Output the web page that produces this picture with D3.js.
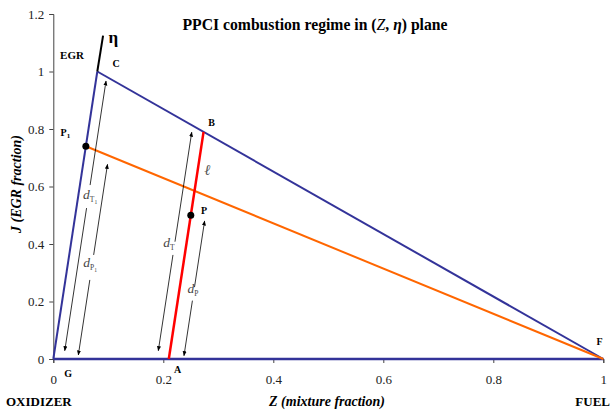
<!DOCTYPE html>
<html>
<head>
<meta charset="utf-8">
<script src="https://cdn.jsdelivr.net/npm/d3@7"></script>
<style>
  body { margin: 0; background: #fff; }
  text { font-family: "Liberation Serif", "Times New Roman", "DejaVu Serif", serif; }
</style>
</head>
<body>
<svg id="chart" width="610" height="410"></svg>
<script>
// ---- data (Z, J coordinates) ----
let xTicks = [0, 0.2, 0.4, 0.6, 0.8, 1];
let yTicks = [0, 0.2, 0.4, 0.6, 0.8, 1, 1.2];

let egrLine = [[0, 0], [0.08, 1]];          // G -> C
let etaLine = [[0.08, 1], [0.0905, 1.125]];  // C -> eta
let topLine = [[0.08, 1], [1, 0]];          // C -> F
let baseLine = [[0, 0], [1, 0]];            // G -> F
let redLine = [[0.21, 0], [0.2732, 0.79]];   // A -> B
let orangeLine = [[0.0592, 0.74], [1, 0]];   // P1 -> F
let points = [[0.25, 0.5], [0.0592, 0.74]]; // P, P1

// double arrows parallel to eta: z at J=0, J from, J to, gap in J
let arrows = [
  {z0: 0.0185, j0: 0.029, j1: 0.967, g0: 0.525, g1: 0.605},
  {z0: 0.0444, j0: 0.014, j1: 0.677, g0: 0.275, g1: 0.362},
  {z0: 0.1886, j0: 0.029, j1: 0.789, g0: 0.362, g1: 0.408},
  {z0: 0.2367, j0: 0.0115, j1: 0.48, g0: 0.203, g1: 0.25}
];
let slope = 0.08;

// d labels: [z, J, subscript, sub-subscript]
let dLabels = [
  [0.067, 0.556, "T", "1"],
  [0.067, 0.32, "P", "1"],
  [0.21, 0.39, "T", ""],
  [0.254, 0.23, "P", ""]
];

let pointLabels = [
  {t: "C", z: 0.114, J: 1.015, size: 10},
  {t: "B", z: 0.288, J: 0.81, size: 10},
  {t: "F", z: 0.993, J: 0.05, size: 10},
  {t: "G", z: 0.027, J: -0.063, size: 10},
  {t: "A", z: 0.226, J: -0.049, size: 10},
  {t: "P", z: 0.274, J: 0.504, size: 10},
  {t: "EGR", z: 0.034, J: 1.045, size: 11}
];

// ---- layout ----
let serif = "Liberation Serif, Times New Roman, serif";
let svg = d3.select("#chart");
let x = d3.scaleLinear().domain([0, 1]).range([53.3, 603.3]);
let y = d3.scaleLinear().domain([0, 1.2]).range([359, 14]);
let line = d3.line().x(d => x(d[0])).y(d => y(d[1]));

svg.append("defs").append("marker")
  .attr("id", "head")
  .attr("viewBox", "0 0 10 10")
  .attr("refX", 9).attr("refY", 5)
  .attr("markerWidth", 5).attr("markerHeight", 5)
  .attr("markerUnits", "userSpaceOnUse")
  .attr("orient", "auto-start-reverse")
  .append("path")
  .attr("d", "M0,1 L10,5 L0,9 Z")
  .attr("fill", "#000");

// axes
let xAxis = svg.append("g")
  .attr("transform", "translate(0," + y(0) + ")")
  .call(d3.axisBottom(x).tickValues(xTicks).tickSize(4).tickPadding(12)
    .tickFormat(d => d3.format("")(d)));
let yAxis = svg.append("g")
  .attr("transform", "translate(" + x(0) + ",0)")
  .call(d3.axisLeft(y).tickValues(yTicks).tickSize(4).tickPadding(5)
    .tickFormat(d => d3.format("")(d)));
[xAxis, yAxis].forEach(a => {
  a.attr("font-family", serif).attr("font-size", 13);
  a.selectAll("path.domain").attr("stroke", "#444");
  a.selectAll("line").attr("stroke", "#444");
  a.selectAll("text").attr("fill", "#222");
});

// title
let title = svg.append("text")
  .attr("x", 315).attr("y", 30)
  .attr("text-anchor", "middle")
  .attr("font-size", 15.7).attr("font-weight", "bold");
title.append("tspan").text("PPCI combustion regime in (");
title.append("tspan").attr("font-style", "italic").attr("font-weight", "normal").text("Z");
title.append("tspan").text(", ");
title.append("tspan").attr("font-style", "italic").text("η");
title.append("tspan").text(") plane");

// axis titles
svg.append("text")
  .attr("x", 327).attr("y", 406)
  .attr("text-anchor", "middle")
  .attr("font-size", 14).attr("font-weight", "bold").attr("font-style", "italic")
  .text("Z (mixture fraction)");

svg.append("text")
  .attr("transform", "translate(21,184) rotate(-90)")
  .attr("text-anchor", "middle")
  .attr("font-size", 14).attr("font-weight", "bold").attr("font-style", "italic")
  .text("J (EGR fraction)");

svg.append("text").attr("x", 6).attr("y", 406)
  .attr("font-size", 13).attr("font-weight", "bold").text("OXIDIZER");
svg.append("text").attr("x", 610).attr("y", 406).attr("text-anchor", "end")
  .attr("font-size", 13).attr("font-weight", "bold").text("FUEL");

// lines
svg.append("path").attr("d", line(baseLine)).attr("stroke", "#333399")
  .attr("stroke-width", 2.5).attr("fill", "none");
svg.append("path").attr("d", line(topLine)).attr("stroke", "#333399")
  .attr("stroke-width", 2).attr("fill", "none");
svg.append("path").attr("d", line(egrLine)).attr("stroke", "#333399")
  .attr("stroke-width", 2).attr("fill", "none");
svg.append("path").attr("d", line(etaLine)).attr("stroke", "#000")
  .attr("stroke-width", 2).attr("fill", "none");
svg.append("path").attr("d", line(orangeLine)).attr("stroke", "#ff6600")
  .attr("stroke-width", 2).attr("fill", "none");
svg.append("path").attr("d", line(redLine)).attr("stroke", "#ff0000")
  .attr("stroke-width", 2.5).attr("fill", "none");

// double arrows, broken around their labels
arrows.forEach(a => {
  let pt = j => [a.z0 + slope * j, j];
  svg.append("path").attr("d", line([pt(a.g1), pt(a.j1)]))
    .attr("stroke", "#000").attr("stroke-width", 0.8).attr("fill", "none")
    .attr("marker-end", "url(#head)");
  svg.append("path").attr("d", line([pt(a.g0), pt(a.j0)]))
    .attr("stroke", "#000").attr("stroke-width", 0.8).attr("fill", "none")
    .attr("marker-end", "url(#head)");
});

// points
svg.selectAll("circle.pt").data(points).join("circle")
  .attr("class", "pt")
  .attr("cx", d => x(d[0])).attr("cy", d => y(d[1]))
  .attr("r", 3.5).attr("fill", "#000");

// d labels
dLabels.forEach(d => {
  let t = svg.append("text")
    .attr("x", x(d[0])).attr("y", y(d[1]))
    .attr("text-anchor", "middle")
    .attr("font-size", 13.5).attr("font-style", "italic").attr("fill", "#444");
  t.append("tspan").text("d");
  t.append("tspan").attr("font-size", 7.5).attr("font-style", "normal").attr("dy", 3).text(d[2]);
  if (d[3]) t.append("tspan").attr("font-size", 5.5).attr("font-style", "normal").attr("dy", 1.5).text(d[3]);
});

// ell label
svg.append("text").attr("x", x(0.28)).attr("y", y(0.64))
  .attr("text-anchor", "middle").attr("font-size", 15)
  .attr("font-style", "italic")
  .attr("fill", "#555").text("ℓ");

// point labels
pointLabels.forEach(p => {
  svg.append("text").attr("x", x(p.z)).attr("y", y(p.J))
    .attr("text-anchor", "middle")
    .attr("font-size", p.size).attr("font-weight", "bold").text(p.t);
});

// P1 label
let p1 = svg.append("text").attr("x", x(0.022)).attr("y", y(0.776))
  .attr("text-anchor", "middle").attr("font-size", 10).attr("font-weight", "bold");
p1.append("tspan").text("P");
p1.append("tspan").attr("font-size", 7).attr("dy", 2).text("1");

// eta label
svg.append("text").attr("x", x(0.109)).attr("y", y(1.1))
  .attr("text-anchor", "middle").attr("font-size", 17).attr("font-weight", "bold")
  .text("η");
</script>
</body>
</html>
